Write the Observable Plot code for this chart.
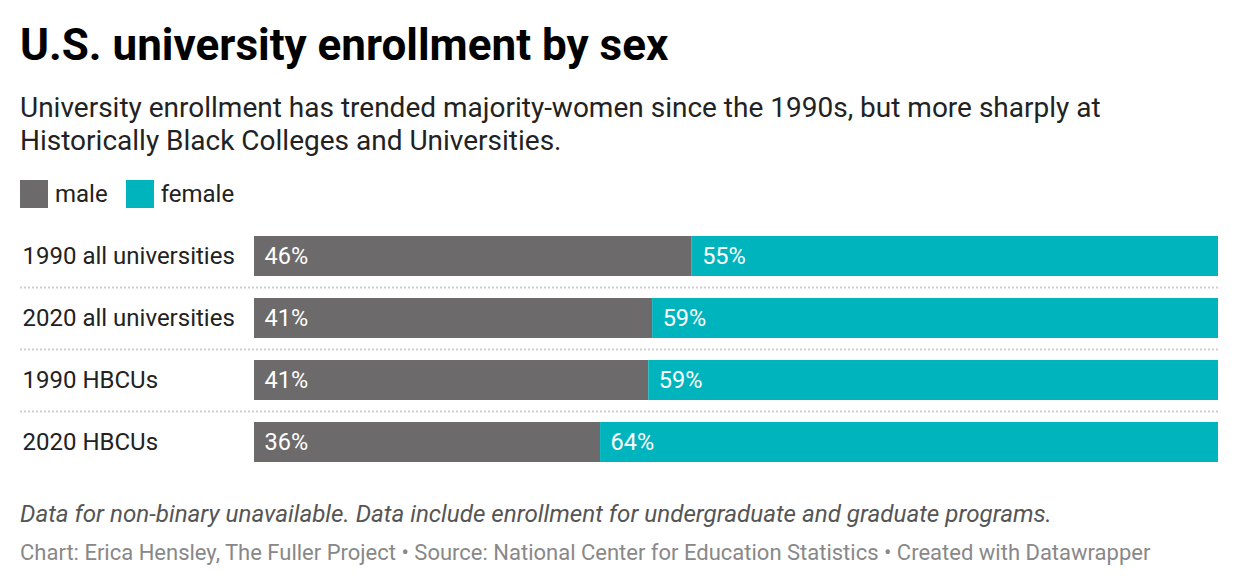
<!DOCTYPE html>
<html>
<head>
<meta charset="utf-8">
<script src="https://cdn.jsdelivr.net/npm/d3@7"></script>
<script src="https://cdn.jsdelivr.net/npm/@observablehq/plot@0.6"></script>
<style>
  html, body { margin: 0; padding: 0; background: #fff; }
  body { width: 1240px; height: 588px; position: relative; overflow: hidden; font-family: Roboto, "Noto Sans", sans-serif; }
  .abs { position: absolute; left: 20px; white-space: nowrap; }
  #title { top: 20px; font-size: 44px; line-height: 50px; font-weight: 700; color: #000; }
  #subtitle { top: 91px; font-size: 28px; line-height: 33px; color: #222; white-space: normal; width: 1200px; }
  #legend { top: 180px; font-size: 24px; line-height: 28px; color: #222; display: flex; }
  #legend .item { display: flex; align-items: center; margin-right: 18px; }
  #legend .sw { width: 28px; height: 28px; margin-right: 7px; }
  #chart { position: absolute; left: 0; top: 225px; }
  #note { top: 500px; font-size: 24.2px; line-height: 28px; font-style: italic; color: #555; }
  #credit { top: 540px; font-size: 22px; line-height: 26px; color: #888; }
</style>
</head>
<body>
<div id="title" class="abs">U.S. university enrollment by sex</div>
<div id="subtitle" class="abs">University enrollment has trended majority-women since the 1990s, but more sharply at Historically Black Colleges and Universities.</div>
<div id="legend" class="abs"></div>
<div id="chart"></div>
<div id="note" class="abs">Data for non-binary unavailable. Data include enrollment for undergraduate and graduate programs.</div>
<div id="credit" class="abs">Chart: Erica Hensley, The Fuller Project • Source: National Center for Education Statistics • Created with Datawrapper</div>
<script>
const categories = ["1990 all universities", "2020 all universities", "1990 HBCUs", "2020 HBCUs"];
const series = ["male", "female"];
const colors = ["#6c6a6a", "#00b4be"];
const maleValues = [45.4, 41.3, 40.9, 35.9];
const femaleValues = [54.6, 58.7, 59.1, 64.1];
const maleLabels = ["46%", "41%", "41%", "36%"];
const femaleLabels = ["55%", "59%", "59%", "64%"];

// legend
const legend = document.getElementById("legend");
series.forEach((s, i) => {
  const item = document.createElement("div");
  item.className = "item";
  const sw = document.createElement("div");
  sw.className = "sw";
  sw.style.background = colors[i];
  const lab = document.createElement("span");
  lab.textContent = s;
  item.appendChild(sw);
  item.appendChild(lab);
  legend.appendChild(item);
});

const rows = [];
categories.forEach((c, i) => {
  rows.push({cat: c, sex: "male", value: maleValues[i], start: 0, label: maleLabels[i]});
  rows.push({cat: c, sex: "female", value: femaleValues[i], start: maleValues[i], label: femaleLabels[i]});
});

const chart = Plot.plot({
  width: 1240,
  height: 248,
  marginLeft: 254,
  marginRight: 22,
  marginTop: 0,
  marginBottom: 0,
  style: {fontFamily: "Roboto, 'Noto Sans', sans-serif", fontSize: "24px", background: "transparent"},
  x: {domain: [0, 100], axis: null},
  y: {domain: categories, axis: null, paddingInner: 0.355, paddingOuter: 0.1775},
  color: {domain: series, range: colors},
  marks: [
    Plot.ruleY(categories.slice(0, -1), {
      y: d => d, dy: 31, insetLeft: -234,
      stroke: "#cfcfcf", strokeWidth: 2, strokeDasharray: "2,2"
    }),
    Plot.barX(rows, {x: "value", y: "cat", fill: "sex"}),
    Plot.text(rows, {
      x: "start", y: "cat", text: "label", textAnchor: "start", dx: 10,
      fill: "#fff", fontSize: 23.5
    }),
    Plot.text(categories, {
      y: d => d, text: d => d, frameAnchor: "left", textAnchor: "start", dx: -232,
      fill: "#222", fontSize: 24
    })
  ]
});
document.getElementById("chart").appendChild(chart);
</script>
</body>
</html>
